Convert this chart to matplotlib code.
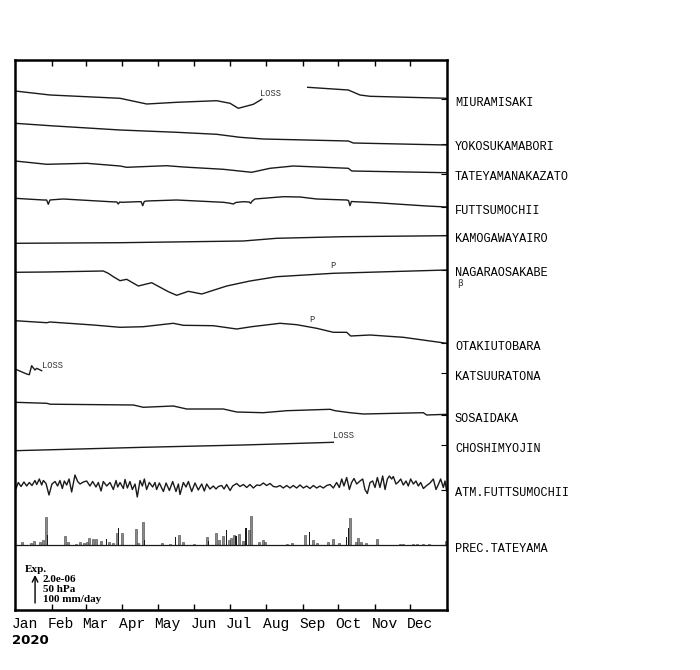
# Strain / pressure / precipitation records, 2020

import numpy as np
import matplotlib
matplotlib.use('Agg')
import matplotlib.pyplot as plt

nan = np.nan

MONTHS = ['Jan', 'Feb', 'Mar', 'Apr', 'May', 'Jun',
          'Jul', 'Aug', 'Sep', 'Oct', 'Nov', 'Dec']
MONTH_START = [0, 31, 60, 91, 121, 152, 182, 213, 244, 274, 305, 335, 366]

# station records: day of year, value (display units, 28 units = 2.0e-06)
miura_day = [0, 29.7, 89, 111.6, 137, 170.9, 182.2, 189.2, 201.9, 209,
             nan, 248, 282.4, 292.3, 300.8, 365.8]
miura_val = [8, 4, 0.7, -5, -3.3, -1.7, -4.3, -9.3, -5.3, -0.3,
             nan, 11.7, 9, 4, 2.7, 0.7]

yokosuka_day = [0, 29.7, 89, 137, 170.9, 190.6, 210.4, 282.4, 286.6, 365.8]
yokosuka_val = [20.7, 18.3, 14, 11.7, 9.7, 6.7, 5, 3, 1, -1]

tateyama_day = [0, 26.9, 60.7, 89, 94.6, 128.5, 142.6, 176.5, 200.5, 216,
                235.8, 282.4, 285.3, 365.8]
tateyama_val = [13, 9.7, 10.7, 8, 6.7, 8.3, 7, 4.7, 1.7, 5.7,
                8, 5.7, 3, 1.3]

futtsu_day = [0, 24, 26.8, 28.2, 29.6, 32.5, 40.9, 80.5, 86.3, 87.5, 88.7,
              90.4, 104.5, 106.9, 108.2, 109.5, 111.6, 137, 176.5, 181, 183,
              185, 187, 193.4, 198.4, 199.7, 201, 203.3, 227.3, 241.5, 255.6,
              281, 282.6, 283.8, 285, 288, 306.4, 348.8, 365.8]
futtsu_val = [8.7, 7, 7, 2.7, 7, 7.3, 8, 5.3, 5, 3, 5,
              4.7, 5.3, 5.3, 1.3, 5.5, 6, 7, 4.7, 4, 3.5,
              3, 4.5, 5.3, 5, 3.7, 6, 8, 10.3, 10, 8,
              7, 6.5, 1.3, 5.5, 5.3, 4.3, 1, 0]

kamogawa_day = [0, 89, 193.4, 221.7, 278.2, 365.8]
kamogawa_val = [-8.3, -7.7, -6, -3.3, -1.7, -0.7]

nagara_day = [0, 26.9, 74.8, 79, 83.3, 89, 94.6, 104.5, 115.8, 129.9, 137,
              146.9, 158.2, 179.4, 199.1, 221.7, 269.7, 365.8]
nagara_val = [-2.3, -2, -1, -3.3, -6.7, -10.7, -9.3, -16, -12.7, -21.7, -25.3,
              -21.3, -24, -16, -11, -6.7, -3.3, 0]

otaki_day = [0, 26.9, 29.7, 66.3, 89, 108.7, 134.1, 142.6, 168, 187.8, 200.5,
             224.5, 238.7, 255.6, 269.7, 281, 284.4, 300.8, 329, 365.8]
otaki_val = [22.3, 20.3, 21, 18, 15.7, 16.3, 19.7, 17.7, 17.3, 14, 16.3,
             19.7, 18.3, 14.7, 10.7, 10.7, 7, 8, 5.7, -0.3]

katsuura_day = [0, 9.9, 12.1, 14.1, 16.9, 18.4, 22.6]
katsuura_val = [4, -1, -1.7, 7.3, 3, 4.7, 2.3]

sosai_day = [0, 26.9, 29.7, 100.3, 108.7, 134.1, 145.5, 176.5, 187.8, 210.4,
             230.2, 266.9, 271.1, 283.8, 295.1, 345.9, 348.8, 365.8]
sosai_val = [12.7, 11.7, 10.8, 10, 7.7, 9, 6, 6, 3, 2.3,
             4.3, 5.7, 4.3, 2.3, 1, 2.3, 0, 0.7]

choshi_day = [0, 108.7, 193.4, 269.7]
choshi_val = [-5.7, -2.3, 0, 2.7]

atm_day = [0, 0.85, 2.8, 5.1, 7.6, 9.9, 12.1, 14.4, 16.9, 18.4, 20.6, 22.6,
           24, 26.3, 28.8, 31.3, 33.9, 36.1, 38.1, 40.1, 41.8, 43.8, 45.8,
           48, 50.8, 53.1, 55.1, 57.9, 60.7, 63.5, 65.8, 68.6, 70.6, 72.9,
           74.8, 77.7, 80.5, 83.3, 85.6, 87, 89, 91.8, 93.2, 95.2, 97.4,
           99.4, 101.7, 103.6, 105.9, 107.9, 109.6, 111.5, 113.8, 116.6,
           118.6, 120, 122.3, 125.7, 128, 130.8, 133.6, 136.4, 138.4, 139.8,
           142.6, 144.9, 146.9, 149.7, 152.5, 155.3, 158.2, 160.4, 162.4,
           165.2, 168, 170.3, 172.3, 175.1, 177.1, 179.3, 182.2, 184.4,
           187.8, 190.6, 193.5, 196.3, 199.1, 201.9, 204.8, 207.6, 210.4,
           213.2, 216.1, 218.9, 221.7, 224.5, 227.3, 230.2, 233, 235.8,
           238.6, 241.5, 244.3, 247.1, 249.9, 252.8, 255.6, 258.4, 261.2,
           264.1, 266.9, 269.7, 272.5, 274.8, 276.8, 278.7, 281, 283.3,
           285.2, 287.2, 289.5, 292.3, 294.6, 296.5, 298.5, 300.8, 303, 305,
           307, 309.2, 311.5, 313.5, 315.5, 317.2, 319.1, 320.5, 322.8,
           324.8, 326.8, 329, 331.3, 333.2, 335.2, 337.5, 339.7, 341.7,
           343.7, 346, 348.8, 351.6, 354.4, 356.7, 358.7, 360.6, 362.9,
           364.3, 365.7]
atm_val = [6, 1.5, 7.5, 3.5, 8, 4, 7.5, 4.5, 9.5, 5.5, 11, 5,
           9.5, 6.5, -5, 6, 8.5, 4, 9.5, 1.5, 9, 5, 11,
           -2, 15, 8.5, 6, 8, 9, 4, 8.5, 3, 7.5, -1,
           8.5, 4, 7.5, 0.5, 9.5, 3, 7.5, 1.5, 10.5, 2, 8.5,
           0.5, 6, -7, 9.5, 4, 11, 0.5, 7.5, 3,
           7.5, 0.5, 7, -1.5, 7, -0.5, 8.5, -1.5, 6, -4.5,
           7.5, 3, 8.5, -1.5, 7, 0, 6, -1, 6,
           1, 4, 1, 3.5, 4.5, 1, 5.5, -0.5, 4,
           6.5, 3.5, 5.5, 2.5, 5.5, 2, 5, 4.5, 7,
           4.5, 6.5, 3.5, 3, 4.5, 2, 4.5, 2, 4.5,
           2, 5, 2, 4, 1.5, 4.5, 2, 4, 2,
           4.5, 5.5, 2, 7.5, 2.5, 11, 4, 12.5, 0.5,
           7.5, 11.5, 6, 9, 11, 0.5, -3.5, 7.5, 9, 2.5,
           12.5, 2.5, 14, 0.5, 11, 14, 11, 13.5, 6,
           8, 11, 5, 9, 4, 11, 6, 9, 4,
           7.5, 1.5, 4.5, 7, 11, 0.5, 5.5, 11, 2.5,
           9, -1]

# daily precipitation, mm/day
prec_day = [5.6, 13.3, 16.4, 21.2, 24, 26.3, 42.4, 45.2, 51.4, 55.1, 58.5,
            60.7, 62.7, 66.4, 68.6, 72.6, 79.4, 82.7, 86.1, 90.7, 102.5,
            103.9, 108.2, 124.3, 131.3, 139.2, 142.6, 151.9, 162.4, 170.3,
            173.1, 175.9, 181.3, 182.7, 185.5, 190.1, 193.4, 198, 199.7, 207,
            209.8, 211.8, 230.7, 235, 245.7, 252.8, 255.6, 265.5, 269.7,
            274.8, 283.8, 288.9, 290.9, 292.9, 297.4, 307, 326.2, 329, 337.5,
            340.9, 345.9, 351, 365.2]
prec_mm = [11, 7, 14, 11, 18, 100, 32, 11, 5, 10, 8,
           12, 25, 20, 20, 14, 12, 6, 43, 43, 57,
           8, 81, 8, 3, 36, 10, 5, 29, 43,
           17, 33, 17, 26, 36, 38, 14, 52, 104, 12,
           17, 10, 5, 8, 36, 18, 8, 12, 20,
           8, 95, 12, 24, 12, 6, 20, 5, 5, 5,
           5, 5, 5, 14]
prec2_day = [27.4, 77.7, 87.8, 109.6, 136.1, 164.1, 179.3, 187.2, 195.7,
             249.4, 281, 282.7]
prec2_mm = [36, 21, 62, 18, 29, 14, 52, 33, 60, 46, 29, 62]

STATIONS = ['MIURAMISAKI', 'YOKOSUKAMABORI', 'TATEYAMANAKAZATO',
            'FUTTSUMOCHII', 'KAMOGAWAYAIRO', 'NAGARAOSAKABE',
            'OTAKIUTOBARA', 'KATSUURATONA', 'SOSAIDAKA', 'CHOSHIMYOJIN',
            'ATM.FUTTSUMOCHII', 'PREC.TATEYAMA']
LEVELS = [511, 466, 436, 403, 375, 340, 267, 237, 195, 165, 120, 65]

MONO = 'Liberation Mono'


def _main():
    fig = plt.figure(figsize=(7, 6.7), dpi=100)
    ax = fig.add_axes([15 / 700, 60 / 670, 432 / 700, 550 / 670])

    series = [(miura_day, miura_val), (yokosuka_day, yokosuka_val),
              (tateyama_day, tateyama_val), (futtsu_day, futtsu_val),
              (kamogawa_day, kamogawa_val), (nagara_day, nagara_val),
              (otaki_day, otaki_val), (katsuura_day, katsuura_val),
              (sosai_day, sosai_val), (choshi_day, choshi_val),
              (atm_day, atm_val)]
    for (d, v), lev in zip(series, LEVELS):
        ax.plot(d, lev + np.asarray(v, dtype=float), color='#1a1a1a', lw=1.0)

    # precipitation
    base = LEVELS[-1]
    scale = 28 / 100.0
    ax.bar(prec_day, np.asarray(prec_mm) * scale, bottom=base, width=1.8,
           color='#8a8a8a', edgecolor='#404040', linewidth=0.4)
    ax.bar(prec2_day, np.asarray(prec2_mm) * scale, bottom=base, width=1.3,
           color='#1a1a1a', linewidth=0)
    ax.axhline(base, color='#1a1a1a', lw=0.9)

    # gap / event annotations
    small = dict(family=MONO, fontsize=6.3, va='center', color='#333333')
    ax.text(207.6, LEVELS[0] + 5.7, 'LOSS', ha='left', **small)
    ax.text(22.6, LEVELS[7] + 7.3, 'LOSS', ha='left', **small)
    ax.text(269.7, LEVELS[9] + 9.3, 'LOSS', ha='left', **small)
    ax.text(269.2, LEVELS[5] + 4, 'P', ha='center', **small)
    ax.text(251.4, LEVELS[6] + 23, 'P', ha='center', **small)

    # scale legend
    ax.annotate('', xy=(17, 35), xytext=(17, 7),
                arrowprops=dict(arrowstyle='->', lw=1.0, color='black',
                                shrinkA=0, shrinkB=0))
    leg = dict(family='Liberation Serif', weight='bold', fontsize=8,
               va='center', ha='left')
    ax.text(8.5, 41, 'Exp.', **leg)
    ax.text(23.5, 30, '2.0e-06', **leg)
    ax.text(23.5, 20.5, '50 hPa', **leg)
    ax.text(23.5, 11, '100 mm/day', **leg)

    # station labels on the right
    ytr = ax.get_yaxis_transform()
    for name, lev in zip(STATIONS, LEVELS):
        ax.text(1.0185, lev - 3.5, name, transform=ytr, family=MONO,
                fontsize=8.6, va='center', ha='left', clip_on=False)
    ax.text(1.024, LEVELS[5] - 13, 'β', transform=ytr, fontsize=6.5,
            va='center', ha='left', color='#333333')

    # months
    xtr = ax.get_xaxis_transform()
    for m, start in zip(MONTHS, MONTH_START):
        ax.text(start - 3, -0.0255, m, transform=xtr, family=MONO,
                fontsize=10.5, va='center', ha='left')
    fig.text(12 / 700, 1 - 640 / 670, '2020', fontsize=9.5,
             weight='bold', va='center', ha='left')

    ax.set_xlim(0, 366)
    ax.set_ylim(0, 550)
    ax.set_xticks(MONTH_START[1:-1])
    ax.set_xticklabels([])
    ax.set_yticks(LEVELS)
    ax.set_yticklabels([])
    ax.tick_params(axis='x', direction='in', top=True, bottom=True,
                   length=4, width=1)
    ax.tick_params(axis='y', direction='in', left=False, right=True,
                   length=4, width=0.8)
    for sp in ax.spines.values():
        sp.set_linewidth(1.8)

    fig.savefig('out.png', dpi=100)


if __name__ == '__main__':
    _main()
